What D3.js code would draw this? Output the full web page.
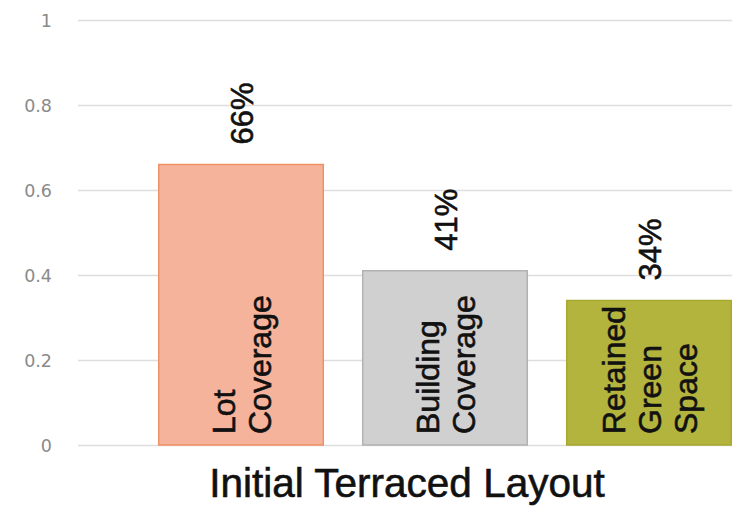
<!DOCTYPE html>
<html>
<head>
<meta charset="utf-8">
<script src="https://cdn.jsdelivr.net/npm/d3@7/dist/d3.min.js"></script>
<style>
  html, body { margin: 0; padding: 0; background: #ffffff; }
  svg { display: block; }
</style>
</head>
<body>
<script>
// Share of the site for each land-use measure
const categories = ["Lot Coverage", "Building Coverage", "Retained Green Space"];
const barLines = [["Lot", "Coverage"], ["Building", "Coverage"], ["Retained", "Green", "Space"]];
const values = [0.66, 0.41, 0.34];
const valueLabels = ["66%", "41%", "34%"];
const fills = ["#f6b39b", "#d0d0d0", "#b3b43d"];
const strokes = ["#ef9166", "#b2b2b2", "#a8a932"];
const yTicks = [0, 0.2, 0.4, 0.6, 0.8, 1];
const title = "Initial Terraced Layout";

const W = 732, H = 511;
const svg = d3.select("body").append("svg").attr("width", W).attr("height", H);

const y = d3.scaleLinear().domain([0, 1]).range([445, 20]);
const x = d3.scaleBand().domain(categories).range([139, 751])
  .paddingInner(0.186).paddingOuter(0.093);

// Horizontal gridlines with tick values on the left
const yAxis = d3.axisLeft(y).tickValues(yTicks).tickFormat(d3.format("")).tickSize(0).tickPadding(0);
const gAxis = svg.append("g").attr("transform", "translate(52,0)").call(yAxis);
gAxis.select(".domain").remove();
gAxis.selectAll("text")
  .attr("fill", "#8a8a8a")
  .style("font-family", "'DejaVu Sans', sans-serif")
  .style("font-size", "17.5px")
  .attr("dy", "0.36em");

svg.append("g").selectAll("line").data(yTicks).join("line")
  .attr("x1", 78).attr("x2", W)
  .attr("y1", d => Math.round(y(d)) + 0.5).attr("y2", d => Math.round(y(d)) + 0.5)
  .attr("stroke", "#dedede").attr("stroke-width", 1.5);

// Bars
svg.append("g").selectAll("rect").data(categories).join("rect")
  .attr("x", d => x(d) + 0.75)
  .attr("y", (d, i) => y(values[i]))
  .attr("width", x.bandwidth() - 1.5)
  .attr("height", (d, i) => y(0) - y(values[i]))
  .attr("fill", (d, i) => fills[i])
  .attr("stroke", (d, i) => strokes[i])
  .attr("stroke-width", 1.5);

const heavyText = sel => sel
  .style("font-family", "'Liberation Sans', Arial, sans-serif")
  .attr("fill", "#111")
  .attr("stroke", "#111")
  .attr("stroke-width", 0.6);

// Value labels above bars, rotated
svg.append("g").selectAll("text").data(categories).join("text")
  .attr("transform", (d, i) => `translate(${x(d) + x.bandwidth() / 2 + 1},${y(values[i]) - 20}) rotate(-90)`)
  .attr("dy", "0.36em")
  .attr("text-anchor", "start")
  .style("font-size", "31px")
  .call(heavyText)
  .text((d, i) => valueLabels[i]);

// Category names written inside bars, one rotated line per word
const lineGap = 36;
categories.forEach((c, i) => {
  const lines = barLines[i];
  const cx = x(c) + x.bandwidth() / 2;
  const first = cx - (lines.length - 1) * lineGap / 2;
  svg.append("g").selectAll("text").data(lines).join("text")
    .attr("transform", (t, j) => `translate(${first + j * lineGap},${y(0) - 11}) rotate(-90)`)
    .attr("dy", "0.36em")
    .attr("text-anchor", "start")
    .style("font-size", "32px")
    .call(heavyText)
    .text(t => t);
});

// Title beneath the chart
svg.append("text")
  .attr("x", 407).attr("y", 497)
  .attr("text-anchor", "middle")
  .style("font-size", "40.5px")
  .call(heavyText)
  .text(title);
</script>
</body>
</html>
